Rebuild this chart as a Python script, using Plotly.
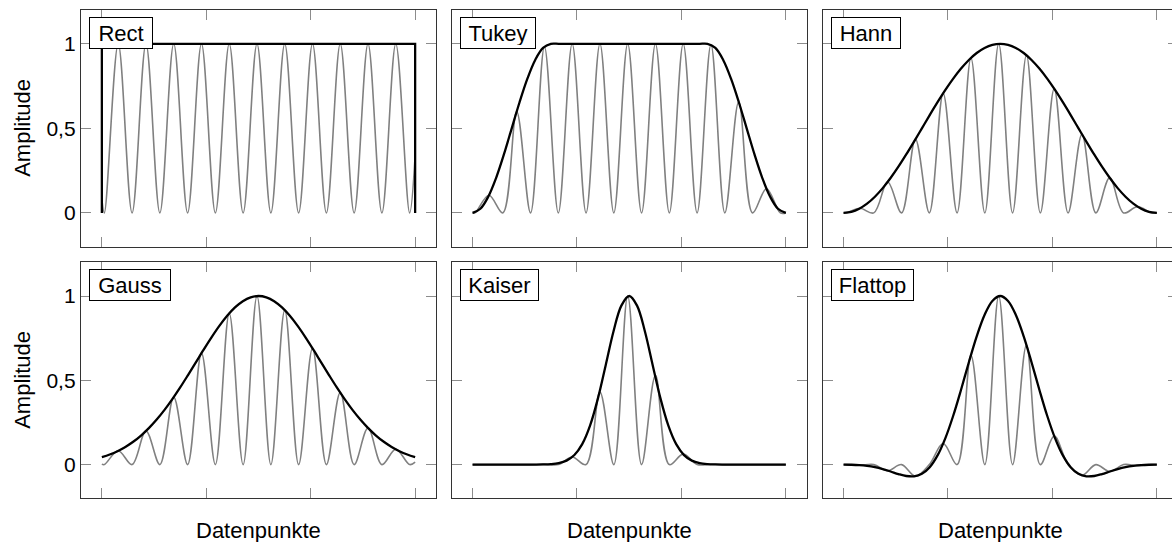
import plotly.graph_objects as go
from plotly.subplots import make_subplots

# ---------------------------------------------------------------- data
window_names = ["Rect", "Tukey", "Hann", "Gauss", "Kaiser", "Flattop"]

# sample positions (normalised data index) of the window envelopes
env_x = [0.0, 0.025, 0.05, 0.075, 0.1, 0.125, 0.15, 0.175, 0.2, 0.225,
         0.25, 0.275, 0.3, 0.325, 0.35, 0.375, 0.4, 0.425, 0.45, 0.475,
         0.5, 0.525, 0.55, 0.575, 0.6, 0.625, 0.65, 0.675, 0.7, 0.725,
         0.75, 0.775, 0.8, 0.825, 0.85, 0.875, 0.9, 0.925, 0.95, 0.975, 1.0]

rect_x = [0.0, 0.0, 1.0, 1.0]
rect_env = [0.0, 1.0, 1.0, 0.0]

tukey_env = [0.0, 0.0245, 0.0955, 0.2061, 0.3455, 0.5, 0.6545, 0.7939, 0.9045, 0.9755,
             1.0, 1.0, 1.0, 1.0, 1.0, 1.0, 1.0, 1.0, 1.0, 1.0,
             1.0, 1.0, 1.0, 1.0, 1.0, 1.0, 1.0, 1.0, 1.0, 1.0,
             1.0, 0.9755, 0.9045, 0.7939, 0.6545, 0.5, 0.3455, 0.2061, 0.0955, 0.0245, 0.0]

hann_env = [0.0, 0.0062, 0.0245, 0.0545, 0.0955, 0.1464, 0.2061, 0.2730, 0.3455, 0.4218,
            0.5, 0.5782, 0.6545, 0.7270, 0.7939, 0.8536, 0.9045, 0.9455, 0.9755, 0.9938,
            1.0, 0.9938, 0.9755, 0.9455, 0.9045, 0.8536, 0.7939, 0.7270, 0.6545, 0.5782,
            0.5, 0.4218, 0.3455, 0.2730, 0.2061, 0.1464, 0.0955, 0.0545, 0.0245, 0.0062, 0.0]

gauss_env = [0.0439, 0.0596, 0.0796, 0.1046, 0.1353, 0.1724, 0.2163, 0.2671, 0.3247, 0.3886,
             0.4578, 0.5311, 0.6065, 0.6819, 0.7548, 0.8226, 0.8825, 0.9321, 0.9692, 0.9922,
             1.0, 0.9922, 0.9692, 0.9321, 0.8825, 0.8226, 0.7548, 0.6819, 0.6065, 0.5311,
             0.4578, 0.3886, 0.3247, 0.2671, 0.2163, 0.1724, 0.1353, 0.1046, 0.0796, 0.0596, 0.0439]

kaiser_env = [0.0, 0.0, 0.0, 0.0, 0.0, 0.0, 0.0, 0.0, 0.0002, 0.0008,
              0.0028, 0.0087, 0.0234, 0.0565, 0.1211, 0.2308, 0.3913, 0.5899, 0.7909, 0.9431,
              1.0, 0.9431, 0.7909, 0.5899, 0.3913, 0.2308, 0.1211, 0.0565, 0.0234, 0.0087,
              0.0028, 0.0008, 0.0002, 0.0, 0.0, 0.0, 0.0, 0.0, 0.0, 0.0, 0.0]

flattop_env = [-0.0004, -0.0011, -0.0033, -0.0079, -0.0156, -0.0269, -0.0411, -0.0561, -0.0677, -0.0697,
               -0.0547, -0.0153, 0.0545, 0.1571, 0.2897, 0.4441, 0.6069, 0.7607, 0.8874, 0.9709,
               1.0, 0.9709, 0.8874, 0.7607, 0.6069, 0.4441, 0.2897, 0.1571, 0.0545, -0.0153,
               -0.0547, -0.0697, -0.0677, -0.0561, -0.0411, -0.0269, -0.0156, -0.0079, -0.0033, -0.0011, -0.0004]

# windowed test signal: end points plus every minimum / maximum of the oscillation
sig_x = [0.0, 0.0079, 0.0522, 0.0965, 0.1408, 0.1851, 0.2294, 0.2737, 0.3180, 0.3623,
         0.4066, 0.4509, 0.4952, 0.5395, 0.5838, 0.6281, 0.6724, 0.7167, 0.7610, 0.8053,
         0.8496, 0.8939, 0.9382, 0.9825, 1.0]

rect_sig = [0.08, 0.0, 1.0, 0.0, 1.0, 0.0, 1.0, 0.0, 1.0, 0.0,
            1.0, 0.0, 1.0, 0.0, 1.0, 0.0, 1.0, 0.0, 1.0, 0.0,
            1.0, 0.0, 1.0, 0.0, 0.34]
tukey_sig = [0.0, 0.0, 0.104, 0.0, 0.599, 0.0, 0.983, 0.0, 1.0, 0.0,
             1.0, 0.0, 1.0, 0.0, 1.0, 0.0, 1.0, 0.0, 0.995, 0.0,
             0.657, 0.0, 0.143, 0.0, 0.0]
hann_sig = [0.0, 0.0, 0.027, 0.0, 0.183, 0.0, 0.436, 0.0, 0.707, 0.0,
            0.916, 0.0, 1.0, 0.0, 0.932, 0.0, 0.735, 0.0, 0.465, 0.0,
            0.208, 0.0, 0.037, 0.0, 0.0]
gauss_sig = [0.003, 0.0, 0.082, 0.0, 0.199, 0.0, 0.400, 0.0, 0.661, 0.0,
             0.897, 0.0, 1.0, 0.0, 0.916, 0.0, 0.690, 0.0, 0.427, 0.0,
             0.217, 0.0, 0.091, 0.0, 0.015]
kaiser_sig = [0.0, 0.0, 0.0, 0.0, 0.0, 0.0, 0.001, 0.0, 0.045, 0.0,
              0.43, 0.0, 1.0, 0.0, 0.53, 0.0, 0.062, 0.0, 0.002, 0.0,
              0.0, 0.0, 0.0, 0.0, 0.0]
flattop_sig = [0.0, 0.0, -0.004, 0.0, -0.036, 0.0, -0.069, 0.0, 0.125, 0.0,
               0.649, 0.0, 1.0, 0.0, 0.708, 0.0, 0.169, 0.0, -0.064, 0.0,
               -0.041, 0.0, -0.006, 0.0, 0.0]

x_tick_vals = [0, 1 / 3, 2 / 3, 1]
y_tick_vals = [0, 0.5, 1]
y_tick_text = ["0", "0,5", "1"]
x_label = "Datenpunkte"
y_label = "Amplitude"

envelopes = [
    (rect_x, rect_env, "linear"),
    (env_x, tukey_env, "spline"),
    (env_x, hann_env, "spline"),
    (env_x, gauss_env, "spline"),
    (env_x, kaiser_env, "spline"),
    (env_x, flattop_env, "spline"),
]
signals = [rect_sig, tukey_sig, hann_sig, gauss_sig, kaiser_sig, flattop_sig]

# ---------------------------------------------------------------- layout
W, H = 1178, 542
FONT = "Liberation Sans, Arial, Helvetica, sans-serif"
col_px = [(81.0, 436.0), (451.7, 806.7), (822.7, 1177.7)]
row_px = [(10.0, 246.7), (262.3, 498.3)]
box_w = {"Rect": 64, "Tukey": 76, "Hann": 70, "Gauss": 82, "Kaiser": 79, "Flattop": 83}

fig = make_subplots(rows=2, cols=3)

for i, name in enumerate(window_names):
    r, c = i // 3 + 1, i % 3 + 1
    fig.add_trace(go.Scatter(x=sig_x, y=signals[i], mode="lines",
                             line=dict(color="rgb(128,128,128)", width=1.6, shape="spline"),
                             showlegend=False, hoverinfo="skip"), row=r, col=c)
    ex, ey, shp = envelopes[i]
    fig.add_trace(go.Scatter(x=ex, y=ey, mode="lines",
                             line=dict(color="black", width=2.3, shape=shp),
                             showlegend=False, hoverinfo="skip"), row=r, col=c)

axis_common = dict(showgrid=False, zeroline=False, showline=True, linecolor="#333333",
                   linewidth=1.3, mirror="ticks", ticks="inside", ticklen=10, tickwidth=1,
                   tickcolor="#8c8c8c")

for i, name in enumerate(window_names):
    r, c = i // 3, i % 3
    x0, x1 = col_px[c]
    y0, y1 = row_px[r]
    xa = "xaxis" if i == 0 else f"xaxis{i + 1}"
    ya = "yaxis" if i == 0 else f"yaxis{i + 1}"
    fig.layout[xa].update(domain=[x0 / W, x1 / W], range=[-0.0666, 1.0666],
                          tickvals=x_tick_vals, showticklabels=False, **axis_common)
    fig.layout[ya].update(domain=[1 - y1 / H, 1 - y0 / H], range=[-0.2, 1.2],
                          tickvals=y_tick_vals, ticktext=y_tick_text,
                          showticklabels=(c == 0),
                          tickfont=dict(family=FONT, size=21, color="black"),
                          **axis_common)
    xref = "x domain" if i == 0 else f"x{i + 1} domain"
    yref = "y domain" if i == 0 else f"y{i + 1} domain"
    fig.add_annotation(text=name, xref=xref, yref=yref, x=0, y=1,
                       xanchor="left", yanchor="top", xshift=8, yshift=-7,
                       showarrow=False, width=box_w[name] - 8, height=24,
                       bordercolor="black", borderwidth=1, borderpad=3,
                       bgcolor="white", font=dict(family=FONT, size=22, color="black"))

for c in range(3):
    x0, x1 = col_px[c]
    fig.add_annotation(text=x_label, xref="paper", yref="paper",
                       x=(x0 + x1) / 2 / W, y=1 - 530 / H,
                       xanchor="center", yanchor="middle", showarrow=False,
                       font=dict(family=FONT, size=22, color="black"))
for r in range(2):
    y0, y1 = row_px[r]
    fig.add_annotation(text=y_label, xref="paper", yref="paper",
                       x=22.5 / W, y=1 - (y0 + y1) / 2 / H, textangle=-90,
                       xanchor="center", yanchor="middle", showarrow=False,
                       font=dict(family=FONT, size=22, color="black"))

fig.update_layout(width=W, height=H, margin=dict(l=0, r=0, t=0, b=0),
                  paper_bgcolor="white", plot_bgcolor="white",
                  font=dict(family=FONT, color="black"))

fig.write_html("out.html", config={"displayModeBar": False},
               post_script="document.documentElement.style.overflow='hidden';"
                           "document.body.style.overflow='hidden';")
